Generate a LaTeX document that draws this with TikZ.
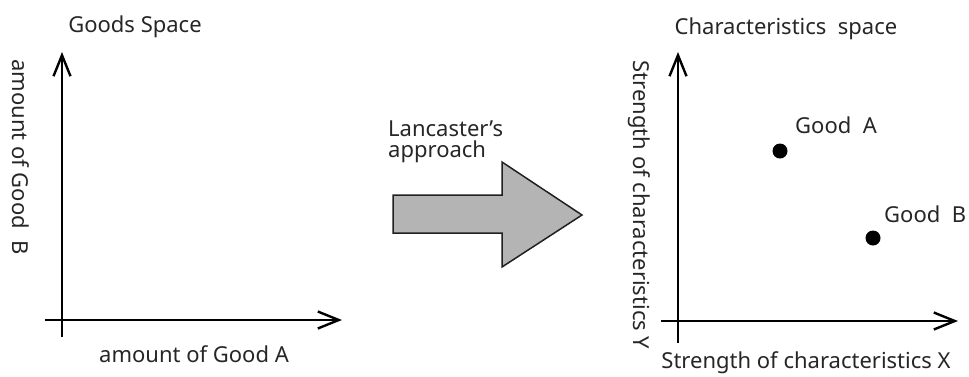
\documentclass[tikz,border=0pt]{standalone}
\usepackage{fontspec}
\setmainfont{Noto Sans}
\usetikzlibrary{arrows.meta,positioning}

\begin{document}
\begin{tikzpicture}[x=1pt,y=1pt,yscale=-1,xscale=1,
  axis/.style={line width=2.4pt,-{Straight Barb[length=21pt,width=17pt,line width=2.4pt]}},
  lbl/.style={inner sep=0pt,font=\fontsize{22}{21}\selectfont,text=black!85},
  good/.style={circle,fill=black,inner sep=0pt,minimum size=15pt}]
\useasboundingbox (0,0) rectangle (969,376);

%Goods space axes
\coordinate (gxs) at (45,320);
\coordinate (gxe) at (342,320);
\coordinate (gys) at (62,337);
\coordinate (gye) at (62,52);
\draw[axis] (gxs) -- (gxe);
\draw[axis] (gys) -- (gye);

%Characteristics space axes
\coordinate (cxs) at (661,321);
\coordinate (cxe) at (958,321);
\coordinate (cys) at (678,343);
\coordinate (cye) at (678,52);
\draw[axis] (cxs) -- (cxe);
\draw[axis] (cys) -- (cye);

%Big arrow
\draw[fill={rgb,255:red,180;green,180;blue,180},draw={rgb,255:red,35;green,31;blue,32},line width=1.5pt]
  (393,195) -- (502,195) -- (502,162) -- (582,215) -- (502,267) -- (502,233) -- (393,233) -- cycle;

%Goods
\node[good] (ga) at (780,151) {};
\node[good] (gb) at (873,238) {};

% Text Node
\node[lbl,anchor=base] (gtitle) at (135,32) {Goods Space};
% Text Node
\node[lbl,anchor=base] (gxlbl) at (194,362) {amount of Good A};
% Text Node
\node[lbl,rotate=-90] (gylbl) at (21,157) {amount of Good\ \ B};
% Text Node
\node[lbl,anchor=north west,align=left] (lanc) at (388,121) {Lancaster's\\approach};
% Text Node
\node[lbl,anchor=base] (ctitle) at (786,34) {Characteristics\ \ space};
% Text Node
\node[lbl,anchor=base] (cxlbl) at (806,368) {Strength of characteristics X};
% Text Node
\node[lbl,rotate=-90] (cylbl) at (639,205) {Strength of characteristics Y};
% Text Node
\node[lbl,anchor=base west] (galbl) at (795,133) {Good\ \ A};
% Text Node
\node[lbl,anchor=base west] (gblbl) at (884,222) {Good\ \ B};

\end{tikzpicture}
\end{document}
